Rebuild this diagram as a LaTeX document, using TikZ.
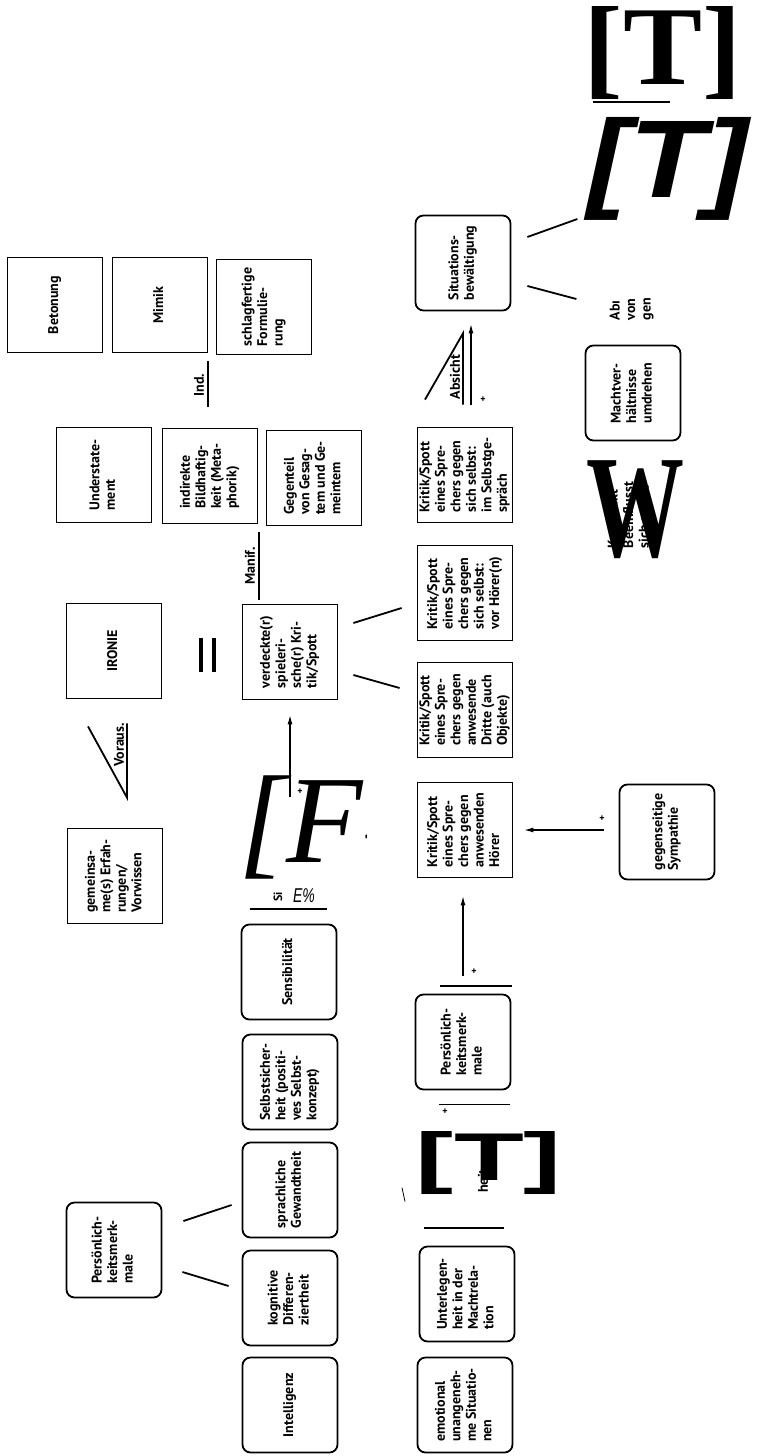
\documentclass[tikz,border=0pt]{standalone}
\usepackage{graphicx}
\usepackage{fontspec}
\setsansfont{PT Sans}
\newfontfamily\bigserif{Liberation Serif}
\newfontfamily\bigsans{Liberation Sans}
\usetikzlibrary{arrows.meta,calc}

\newcommand{\boxfont}{\fontsize{14}{15.5}\selectfont\sffamily\bfseries}
\newcommand{\tagfont}{\fontsize{14}{15}\selectfont\sffamily\bfseries}
\newcommand{\plusfont}{\fontsize{10}{10}\selectfont\sffamily\bfseries}
\newcommand{\rt}[1]{\rotatebox{90}{\begin{tabular}{@{}l@{}}#1\end{tabular}}}

\tikzset{
  sqbox/.style={draw, line width=1.8pt, minimum width=95pt, minimum height=95pt, inner sep=0pt, font=\boxfont},
  rdbox/.style={sqbox, rounded corners=8pt},
  tie/.style={line width=1.8pt},
  arr/.style={line width=1.6pt, -{Latex[length=10pt,width=5pt]}},
  tag/.style={font=\tagfont, inner sep=0.75pt, rotate=90},
  plus/.style={font=\plusfont, inner sep=0pt},
  glyph/.style={inner sep=0pt},
}

\begin{document}
\begin{tikzpicture}[x=1pt,y=1pt,yscale=-1]
\useasboundingbox (0,0) rectangle (758,1456);

%Shape: Rectangle, upper row
\node[sqbox] (beton) at (55,305) {\rt{Betonung}};
\node[sqbox] (mimik) at (160,305) {\rt{Mimik}};
\node[sqbox] (schlag) at (264,307) {\rt{schlagfertige\\Formulie-\\rung}};
%Shape: Rectangle, manifestations
\node[sqbox] (under) at (104,475) {\rt{Understate-\\ment}};
\node[sqbox] (indir) at (210,476) {\rt{indirekte\\Bildhaftig-\\keit (Meta-\\phorik)}};
\node[sqbox] (gegen) at (314,478) {\rt{Gegenteil\\von Gesag-\\tem und Ge-\\meintem}};
%Shape: Rectangle, middle
\node[sqbox] (ironie) at (114,651) {\rt{IRONIE}};
\node[sqbox] (verd) at (290,652) {\rt{verdeckte(r)\\spieleri-\\sche(r) Kri-\\tik/Spott}};
\node[sqbox] (gemein) at (115,876) {\rt{gemeinsa-\\me(s) Erfah-\\rungen/\\Vorwissen}};
%Shape: Rounded Rectangle, speaker traits
\node[rdbox] (sensi) at (289,972) {\rt{Sensibilität}};
\node[rdbox] (sicher) at (290,1082) {\rt{Selbstsicher-\\heit (positi-\\ves Selbst-\\konzept)}};
\node[rdbox] (sprach) at (290,1190) {\rt{sprachliche\\Gewandtheit}};
\node[rdbox] (kogn) at (290,1298) {\rt{kognitive\\Differen-\\ziertheit}};
\node[rdbox] (intel) at (290,1405) {\rt{Intelligenz}};
\node[rdbox] (persL) at (114,1250) {\rt{Persönlich-\\keitsmerk-\\male}};
%Shape: Rectangle, kinds of criticism
\node[sqbox] (hoer) at (465,830) {\rt{Kritik/Spott\\eines Spre-\\chers gegen\\anwesenden\\Hörer}};
\node[sqbox] (dritte) at (465,710) {\rt{Kritik/Spott\\eines Spre-\\chers gegen\\anwesende\\Dritte (auch\\Objekte)}};
\node[sqbox] (vorhoer) at (465,593) {\rt{Kritik/Spott\\eines Spre-\\chers gegen\\sich selbst:\\vor Hörer(n)}};
\node[sqbox] (selbst) at (465,475) {\rt{Kritik/Spott\\eines Spre-\\chers gegen\\sich selbst:\\im Selbstge-\\spräch}};
%Shape: Rounded Rectangle, right column
\node[rdbox] (situ) at (463,263) {\rt{Situations-\\bewältigung}};
\node[rdbox] (macht) at (633,393) {\rt{Machtver-\\hältnisse\\umdrehen}};
\node[rdbox] (symp) at (667,832) {\rt{gegenseitige\\Sympathie}};
\node[rdbox] (persR) at (463,1042) {\rt{Persönlich-\\keitsmerk-\\male}};
\node[rdbox] (unter) at (467,1294) {\rt{Unterlegen-\\heit in der\\Machtrela-\\tion}};
\node[rdbox] (emot) at (465,1405) {\rt{emotional\\unangeneh-\\me Situatio-\\nen}};

% Text Node, large glyphs
\node[glyph] (tupr) at (663,53.5) {\resizebox*{158pt}{93pt}{\bigserif\bfseries [T]}};
\draw[line width=1.4pt] (593,102) -- (670,102);
\node[glyph] (tita) at (668,168.5) {\resizebox*{160pt}{103pt}{\bigsans\bfseries\itshape [T]}};
\node[glyph, font=\boxfont] (wtext) at (630,515) {\rt{Konstrukt\\Beeinflusst\\sich selbst}};
\node[glyph] (wbig) at (635,510) {\resizebox*{98pt}{98pt}{\bigserif\bfseries W}};
\node[glyph, anchor=base west, font=\bigserif\itshape\fontsize{125}{125}\selectfont] (fbig) at (238,862) {[F};
\node[tag, font=\fontsize{14}{14}\selectfont\sffamily\bfseries] (fdash) at (368,837) {-};
\node[tag, font=\fontsize{12}{12}\selectfont\sffamily\bfseries] (si) at (278,897) {Si};
\node[glyph, font=\fontsize{20}{20}\selectfont\bigsans\itshape] (epct) at (304,896) {\scalebox{0.7}[1]{E\%}};
\node[glyph] (tlow) at (489,1163.5) {\resizebox*{146pt}{63pt}{\bigsans\bfseries [T]}};
\node[tag] (heit) at (483,1181) {heit};
\node[glyph, font=\boxfont] (abvon) at (632,309) {\rt{Abı\\von\\gen}};

% Text Node, labels
\node[tag] (indl) at (199,385) {Ind.};
\node[tag] (manl) at (250,566) {Manif.};
\node[tag] (vorl) at (119,745) {Voraus.};
\node[tag] (absl) at (455,377) {Absicht};

%Shape: Lines
\draw[tie] ($(mimik.south)+(48,8)$) -- ($(indir.north)+(-2,-21)$);
\draw[tie] ($(indir.south)+(49,8)$) -- ($(verd.north)+(-31,-4)$);
\draw[tie, line width=3.5pt] ($(ironie.east)+(38.5,-13)$) -- ($(ironie.east)+(38.5,21)$);
\draw[tie, line width=3.5pt] ($(ironie.east)+(51.5,-13)$) -- ($(ironie.east)+(51.5,21)$);
\draw[tie] ($(ironie.south)+(-26,27)$) -- ($(gemein.north)+(12,-30)$) -- ($(ironie.south)+(13,24)$);
\draw[tie] ($(verd.east)+(15,-29)$) -- ($(vorhoer.west)+(-15,15)$);
\draw[tie] ($(verd.east)+(15,23)$) -- ($(dritte.west)+(-17,-22)$);
\draw[tie] ($(situ.east)+(16,-26)$) -- ($(situ.east)+(66,-44)$);
\draw[tie] ($(situ.east)+(16,23)$) -- ($(situ.east)+(65,36)$);
\draw[tie] ($(persL.east)+(21,-29)$) -- ($(sprach.west)+(-10,15)$);
\draw[tie] ($(persL.east)+(20,22)$) -- ($(kogn.west)+(-13,-12)$);
\draw[tie] ($(selbst.north)+(-40,-27)$) -- ($(situ.south)+(0,22)$) -- ($(selbst.north)+(-2,-22)$);
\draw[tie] ($(sensi.north)+(-39,-15)$) -- ($(sensi.north)+(38,-15)$);
\draw[tie] ($(persR.north)+(-23,-8)$) -- ($(persR.north)+(49,-8)$);
\draw[tie] ($(persR.south)+(-24,14)$) -- ($(persR.south)+(47,14)$);
\draw[tie] ($(unter.north)+(-43,-18)$) -- ($(unter.north)+(37,-18)$);
\draw[line width=0.8pt] ($(unter.north)+(-65,-58)$) -- ($(unter.north)+(-62,-44)$);

%Shape: Arrows
\draw[arr] ($(verd.south)+(0,97)$) -- ($(verd.south)+(0,14)$);
\draw[arr] ($(selbst.north)+(6,-22)$) -- ($(situ.south)+(8,12)$);
\draw[arr] ($(symp.west)+(-15,-2)$) -- ($(hoer.east)+(10,0)$);
\draw[arr] ($(persR.north)+(0,-18)$) -- ($(hoer.south)+(-2,17)$);

% Text Node, plus signs
\node[plus] (p1) at (300,792) {+};
\node[plus] (p2) at (483,400) {+};
\node[plus] (p3) at (602,819) {+};
\node[plus] (p4) at (474,972) {+};
\node[plus] (p5) at (445,1112) {+};
\end{tikzpicture}
\end{document}
